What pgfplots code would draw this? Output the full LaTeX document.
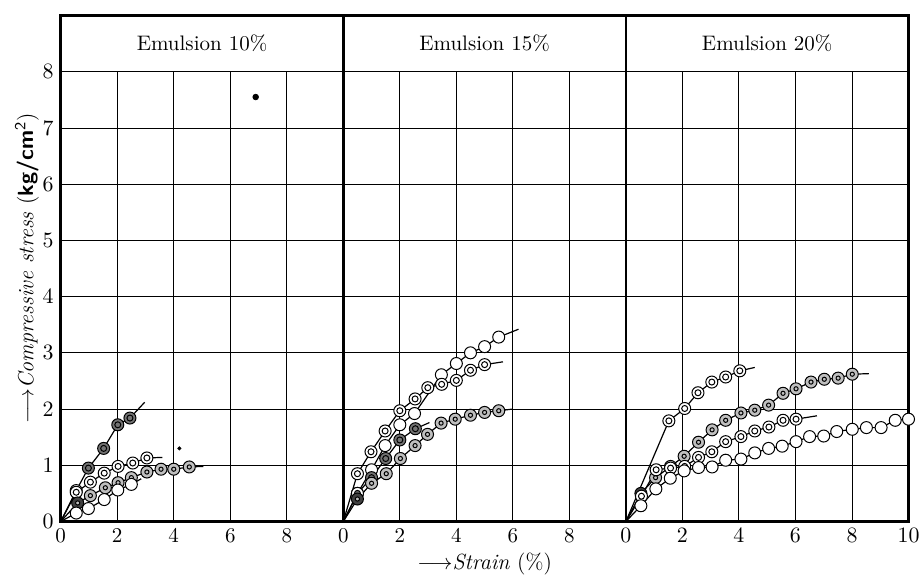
\documentclass[border=0pt]{standalone}
\usepackage{fontspec}
\usepackage{pgfplots}
\pgfplotsset{compat=1.18}

% ring marks of the original print
\pgfdeclareplotmark{dcirc}{%
  \pgfpathcircle{\pgfpointorigin}{\pgfplotmarksize}\pgfusepathqfillstroke
  \pgfpathcircle{\pgfpointorigin}{0.5\pgfplotmarksize}\pgfusepathqstroke}
\pgfdeclareplotmark{gcirc}{%
  \pgfpathcircle{\pgfpointorigin}{\pgfplotmarksize}\pgfusepathqfillstroke
  \pgfsetfillcolor{black!55}%
  \pgfpathcircle{\pgfpointorigin}{0.5\pgfplotmarksize}\pgfusepathqfillstroke}
\pgfdeclareplotmark{hcirc}{%
  \pgfpathcircle{\pgfpointorigin}{\pgfplotmarksize}\pgfusepathqfillstroke
  \pgfsetfillcolor{black!25}%
  \pgfpathcircle{\pgfpointorigin}{0.35\pgfplotmarksize}\pgfusepathqfillstroke}

\pgfplotsset{
  panel/.style={
    scale only axis, width=141.3pt, height=253pt,
    xmin=0, xmax=10, ymin=0, ymax=9,
    xtick={0,2,...,10}, ytick={0,...,8},
    grid=major, major grid style={black, line width=0.45pt},
    major tick length=0pt,
    axis line style={line width=1.2pt},
    tick label style={font=\fontsize{10.5}{12}\selectfont},
    clip=false,
  },
  ser/.style={black, line width=0.6pt, mark size=3pt},
  openm/.style={ser, mark=*, mark options={solid, line width=0.5pt, fill=white}},
  dm/.style={ser, mark=dcirc, mark options={solid, line width=0.5pt, fill=white}},
  gm/.style={ser, mark=gcirc, mark options={solid, line width=0.5pt, fill=white}},
  hm/.style={ser, mark=hcirc, mark options={solid, line width=0.5pt, fill=black!75}},
}

\newcommand{\titlerow}[1]{%
  \fill[white] (axis cs:0,8) rectangle (axis cs:10,9);
  \draw[line width=0.45pt] (axis cs:0,8) -- (axis cs:10,8);
  \draw[line width=1.2pt] (rel axis cs:0,0) rectangle (rel axis cs:1,1);
  \node[font=\fontsize{10.5}{12}\selectfont] at (axis cs:5,8.5) {#1};}

\begin{document}
\begin{tikzpicture}
\path[use as bounding box] (-30.35pt,-27.25pt) rectangle (429.65pt,260.75pt);

% Emulsion 10%
\begin{axis}[panel, at={(0pt,0pt)},
  xticklabels={0,2,4,6,8,{}},
  ylabel={$\longrightarrow$\textit{Compressive stress} (\textsf{\bfseries kg/cm$^{\mathsf{2}}$})},
  ylabel style={font=\fontsize{11}{12}\selectfont, yshift=-5pt}]
\addplot[gm, mark indices={2,...,6}] coordinates {(0,0) (0.55,0.55) (0.98,0.95) (1.52,1.30) (2.02,1.72) (2.45,1.84) (2.97,2.12)};
\addplot[dm, mark indices={2,...,7}] coordinates {(0,0) (0.55,0.52) (1.05,0.70) (1.54,0.86) (2.03,0.98) (2.55,1.04) (3.05,1.13) (3.6,1.14)};
\addplot[hm, mark indices={2,...,10}] coordinates {(0,0) (0.6,0.33) (1.05,0.46) (1.58,0.60) (2.03,0.69) (2.5,0.78) (3.05,0.88) (3.55,0.93) (4.0,0.93) (4.55,0.97) (5.05,0.98)};
\addplot[openm, mark indices={2,...,6}] coordinates {(0,0) (0.55,0.15) (0.98,0.23) (1.54,0.39) (2.02,0.56) (2.5,0.66) (2.85,0.76)};
\addplot[only marks, mark=*, mark size=1.4pt, black] coordinates {(6.9,7.55)};
\addplot[only marks, mark=*, mark size=0.8pt, black] coordinates {(4.2,1.3)};
\titlerow{Emulsion 10\%}
\end{axis}

% Emulsion 15%
\begin{axis}[panel, at={(141.3pt,0pt)},
  xticklabels={0,2,4,6,8,{}}, yticklabels={},
  xlabel={$\longrightarrow$\textit{Strain} (\%)},
  xlabel style={font=\fontsize{11}{12}\selectfont, yshift=2pt}]
\addplot[openm, mark indices={2,...,11}] coordinates {(0,0) (0.5,0.5) (1.0,0.92) (1.48,1.35) (2.0,1.72) (2.52,1.92) (3.47,2.61) (4.0,2.81) (4.5,3.0) (5.0,3.11) (5.5,3.28) (6.2,3.42)};
\addplot[dm, mark indices={2,...,11}] coordinates {(0,0) (0.5,0.85) (0.98,1.24) (1.48,1.61) (2.0,1.97) (2.54,2.18) (2.99,2.38) (3.48,2.44) (4.0,2.51) (4.5,2.69) (5.0,2.79) (5.65,2.84)};
\addplot[gm, mark indices={2,...,6}] coordinates {(0,0) (0.5,0.5) (1.0,0.78) (1.5,1.12) (2.0,1.45) (2.55,1.65) (3.05,1.76)};
\addplot[hm, mark indices={2,...,12}] coordinates {(0,0) (0.5,0.4) (1.0,0.68) (1.52,0.85) (2.02,1.12) (2.54,1.35) (2.98,1.55) (3.46,1.75) (3.96,1.82) (4.5,1.89) (5.0,1.94) (5.5,1.97) (6.0,2.0)};
\titlerow{Emulsion 15\%}
\end{axis}

% Emulsion 20%
\begin{axis}[panel, at={(282.6pt,0pt)}, yticklabels={}]
\addplot[dm, mark indices={2,...,7}] coordinates {(0,0) (1.52,1.79) (2.08,2.01) (2.55,2.29) (3.04,2.48) (3.53,2.57) (4.03,2.68) (4.56,2.74)};
\addplot[hm, mark indices={2,...,17}] coordinates {(0,0) (0.53,0.5) (1.05,0.78) (1.58,0.98) (2.06,1.16) (2.57,1.41) (3.05,1.63) (3.53,1.80) (4.07,1.93) (4.56,1.98) (5.05,2.07) (5.56,2.28) (6.02,2.36) (6.55,2.48) (7.02,2.53) (7.51,2.55) (8.01,2.62) (8.6,2.63)};
\addplot[dm, mark indices={2,...,13}] coordinates {(0,0) (0.55,0.45) (1.07,0.92) (1.58,0.95) (2.08,0.98) (2.57,1.14) (3.04,1.24) (3.53,1.42) (4.07,1.51) (4.56,1.61) (5.06,1.68) (5.56,1.80) (6.02,1.82) (6.76,1.88)};
\addplot[openm, mark indices={2,...,21}] coordinates {(0,0) (0.53,0.28) (1.06,0.58) (1.57,0.77) (2.06,0.90) (2.57,0.96) (3.05,0.97) (3.53,1.09) (4.07,1.11) (4.56,1.22) (5.05,1.30) (5.53,1.34) (6.02,1.42) (6.5,1.51) (7.0,1.52) (7.46,1.60) (8.01,1.64) (8.51,1.67) (9.03,1.67) (9.53,1.80) (10.0,1.82)};
\titlerow{Emulsion 20\%}
\end{axis}
\end{tikzpicture}
\end{document}
